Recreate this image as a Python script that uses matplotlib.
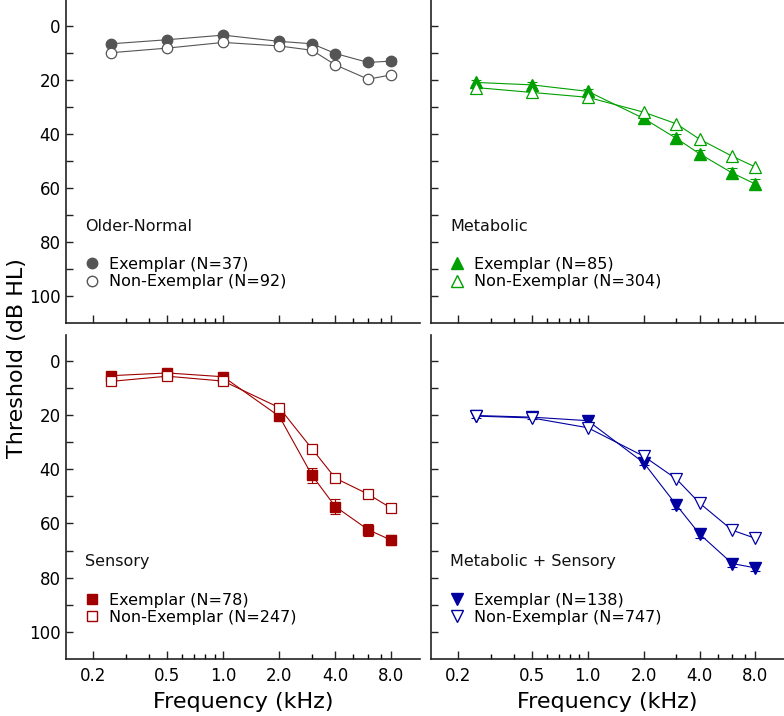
import numpy as np
import matplotlib
matplotlib.use('Agg')
import matplotlib.pyplot as plt
from matplotlib.lines import Line2D
from matplotlib.ticker import FixedLocator, NullFormatter

# Frequenzen (kHz)
freq = [0.25, 0.5, 1.0, 2.0, 3.0, 4.0, 6.0, 8.0]

# Schwellen (dB HL)
on_ex = [6.7, 5.2, 3.5, 5.8, 6.7, 10.3, 13.6, 13.1]
on_non = [10.0, 8.3, 6.2, 7.5, 9.1, 14.5, 19.8, 18.2]
on_err = [0.8, 0.8, 0.8, 0.8, 0.8, 0.9, 1.0, 1.0]

met_ex = [21.0, 21.9, 24.3, 34.3, 41.7, 47.4, 54.5, 58.6]
met_non = [22.9, 24.7, 26.5, 32.0, 36.3, 42.0, 48.3, 52.3]
met_err = [1.0, 1.0, 1.0, 1.2, 1.5, 1.5, 1.8, 1.8]

sen_ex = [5.5, 4.5, 5.9, 20.5, 42.3, 53.8, 62.3, 66.2]
sen_non = [7.6, 5.7, 7.5, 17.3, 32.5, 43.3, 49.2, 54.4]
sen_err = [1.2, 1.2, 1.2, 1.5, 2.7, 2.8, 2.2, 1.8]

ms_ex = [20.2, 20.8, 22.1, 37.6, 53.2, 63.9, 74.8, 76.4]
ms_non = [20.4, 21.1, 24.7, 35.2, 43.6, 52.5, 62.5, 65.5]
ms_err = [0.8, 0.8, 0.9, 1.0, 1.5, 1.5, 1.3, 1.3]

groups = ['Older-Normal', 'Metabolic', 'Sensory', 'Metabolic + Sensory']
n_ex = [37, 85, 78, 138]
n_non = [92, 304, 247, 747]

xticks = [0.2, 0.5, 1.0, 2.0, 4.0, 8.0]
xticklabels = ['0.2', '0.5', '1.0', '2.0', '4.0', '8.0']
yticks = [0, 20, 40, 60, 80, 100]

plt.rcParams['font.family'] = ['DejaVu Sans']

fig = plt.figure(figsize=(7.84, 7.16), dpi=100)
W, H = 784.0, 716.0
pos = [
    [66 / W, (H - 323) / H, 354 / W, 323 / H],
    [431 / W, (H - 323) / H, 353 / W, 323 / H],
    [66 / W, (H - 659) / H, 354 / W, 324 / H],
    [431 / W, (H - 659) / H, 353 / W, 324 / H],
]

data = [
    (on_ex, on_non, on_err, 'o', '#555555', 7.5),
    (met_ex, met_non, met_err, '^', '#00a000', 8),
    (sen_ex, sen_non, sen_err, 's', '#a00000', 7),
    (ms_ex, ms_non, ms_err, 'v', '#0000a0', 8),
]

minor = [0.3, 0.4, 0.6, 0.7, 0.8, 0.9, 3.0, 5.0, 6.0, 7.0]

for i in range(4):
    ax = fig.add_axes(pos[i])
    ex, non, err, mk, col, ms = data[i]
    ax.errorbar(freq, ex, yerr=err, color=col, marker=mk, markersize=ms,
                markerfacecolor=col, markeredgecolor=col, linewidth=0.8,
                elinewidth=0.8, capsize=3.5, capthick=0.8, zorder=2)
    ax.plot(freq, non, color=col, marker=mk, markersize=ms,
            markerfacecolor='white', markeredgecolor=col, linewidth=0.8,
            markeredgewidth=0.9, zorder=3)

    ax.set_xscale('log')
    ax.set_xlim(0.143, 11.4)
    ax.set_ylim(110, -9.5)
    ax.xaxis.set_major_locator(FixedLocator(xticks))
    ax.xaxis.set_minor_locator(FixedLocator(minor))
    ax.xaxis.set_minor_formatter(NullFormatter())
    ax.set_yticks(np.arange(0, 110, 10))
    if i >= 2:
        ax.set_xticklabels(xticklabels)
        ax.set_xlabel('Frequency (kHz)', fontsize=16, labelpad=5)
    else:
        ax.set_xticklabels([])
    if i % 2 == 0:
        ax.set_yticklabels([str(v) if v in yticks else '' for v in range(0, 110, 10)])
    else:
        ax.set_yticklabels([])
    ax.tick_params(axis='both', which='major', direction='in', labelsize=12,
                   width=1.0, color='#222222')
    ax.tick_params(axis='x', which='major', length=6, pad=6)
    ax.tick_params(axis='x', which='minor', direction='in', length=3.5, width=1.0)
    ax.tick_params(axis='y', which='major', length=5, pad=4)
    for s in ['top', 'right']:
        ax.spines[s].set_visible(False)
    for s in ['left', 'bottom']:
        ax.spines[s].set_linewidth(1.2)
        ax.spines[s].set_color('#222222')
    ax.patch.set_alpha(0)

    ax.text(0.054, 0.30, groups[i], transform=ax.transAxes, fontsize=11.5,
            va='center', ha='left', color='#111111')
    handles = [
        Line2D([], [], linestyle='none', marker=mk, markersize=ms,
               markerfacecolor=col, markeredgecolor=col),
        Line2D([], [], linestyle='none', marker=mk, markersize=ms,
               markerfacecolor='white', markeredgecolor=col),
    ]
    labels = ['Exemplar (N=%d)' % n_ex[i], 'Non-Exemplar (N=%d)' % n_non[i]]
    ax.legend(handles, labels, loc='upper left', bbox_to_anchor=(0.05, 0.205),
              frameon=False, fontsize=11.5, handlelength=1.0, handletextpad=0.6,
              labelspacing=0.15, borderpad=0, borderaxespad=0)

fig.text(0.022, 0.5, 'Threshold (dB HL)', rotation=90, fontsize=16,
         va='center', ha='center')

fig.savefig('out.png', dpi=100)
